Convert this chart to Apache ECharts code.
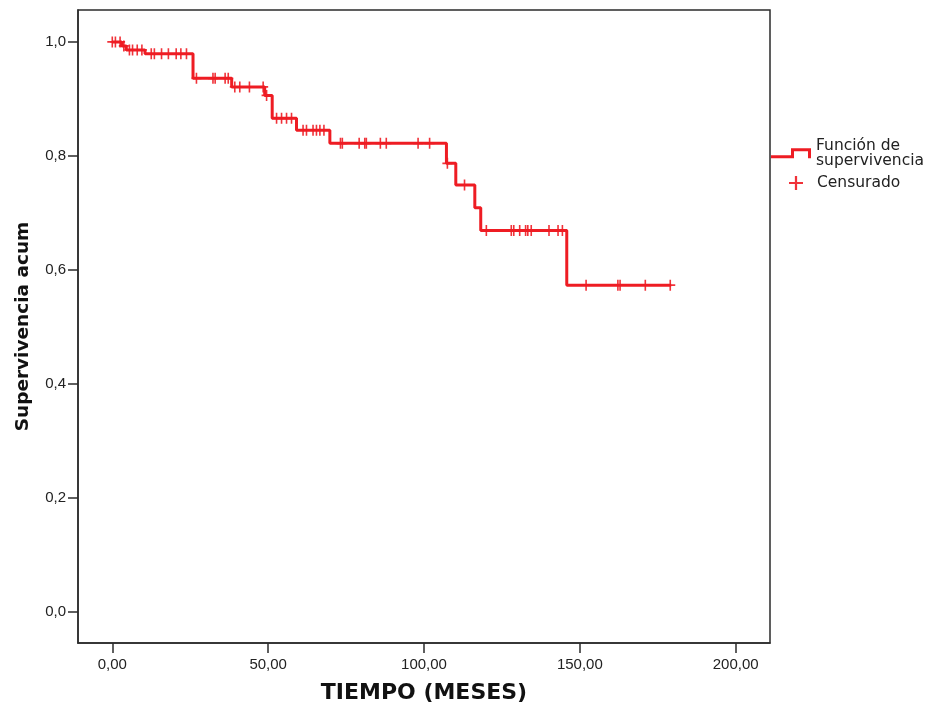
<!DOCTYPE html>
<html>
<head>
<meta charset="utf-8">
<script src="https://cdn.jsdelivr.net/npm/echarts/dist/echarts.min.js"></script>
<style>
html,body{margin:0;padding:0;background:#fff;}
#chart{width:936px;height:704px;}
</style>
</head>
<body>
<div id="chart"></div>
<script>
// Kaplan-Meier step points (time in months, cumulative survival)
const stepTimes = [0, 3, 4.5, 10.5, 25.9, 38.3, 48.9, 51.3, 59.1, 69.8, 107.2, 110.2, 116.3, 118.2, 145.8, 179.3];
const stepSurv  = [1.0, 0.993, 0.986, 0.979, 0.936, 0.921, 0.906, 0.866, 0.845, 0.822, 0.787, 0.749, 0.709, 0.669, 0.573, 0.573];

// Censored observations
const censorTimes = [0, 1, 2.5, 3.7, 5.5, 6.5, 8, 9.5, 12.5, 13.5, 15.8, 18, 20.5, 22, 23.8,
  27, 32.3, 33, 36.2, 37.2, 39.3, 40.9, 44, 48.4, 49.5, 52.7, 54.3, 55.9, 57.5,
  61.2, 62.3, 64.4, 65.5, 66.6, 67.9, 73.2, 73.8, 79.2, 81, 81.5, 86, 87.9, 98.1, 101.8,
  107.5, 113, 120, 128, 128.8, 130.7, 132.6, 133.3, 134.4, 140.1, 143, 144.4,
  152, 162.2, 162.9, 171, 179];
const censorSurv = [1.0, 1.0, 1.0, 0.993, 0.986, 0.986, 0.986, 0.986, 0.979, 0.979, 0.979, 0.979, 0.979, 0.979, 0.979,
  0.936, 0.936, 0.936, 0.936, 0.936, 0.921, 0.921, 0.921, 0.921, 0.906, 0.866, 0.866, 0.866, 0.866,
  0.845, 0.845, 0.845, 0.845, 0.845, 0.845, 0.822, 0.822, 0.822, 0.822, 0.822, 0.822, 0.822, 0.822, 0.822,
  0.787, 0.749, 0.669, 0.669, 0.669, 0.669, 0.669, 0.669, 0.669, 0.669, 0.669, 0.669,
  0.573, 0.573, 0.573, 0.573, 0.573];

const xTicks = [0, 50, 100, 150, 200];
const yTicks = [0, 0.2, 0.4, 0.6, 0.8, 1.0];

const RED = '#ee1c23';
const FONT = '"Liberation Sans", Arial, sans-serif';
const WFONT = '"DejaVu Sans", Verdana, sans-serif';
const plusPath = 'path://M4.2,0H5.8V4.2H10V5.8H5.8V10H4.2V5.8H0V4.2H4.2Z';
const stepIcon = 'path://M0,7L20,7L20,0L40,0L40,10L37,10L37,3L23,3L23,10L0,10Z';

const chart = echarts.init(document.getElementById('chart'), null, {renderer: 'canvas'});
chart.setOption({
  animation: false,
  backgroundColor: '#fff',
  grid: {left: 78, right: 166, top: 10, bottom: 61, outerBoundsMode: 'none', containLabel: false,
    show: true, borderColor: '#2b2b2b', borderWidth: 1.5, backgroundColor: 'transparent'},
  legend: [
    {
      data: [{name: 'Función de supervivencia', icon: stepIcon}],
      left: 766, top: 133, orient: 'vertical',
      itemWidth: 40, itemHeight: 10,
      itemStyle: {color: RED},
      formatter: () => 'Función de\nsupervivencia',
      textStyle: {fontFamily: WFONT, fontSize: 15.5, color: '#222', lineHeight: 14.5}
    },
    {
      data: [{name: 'Censurado', icon: plusPath}],
      left: 784, top: 170, orient: 'vertical',
      itemWidth: 14, itemHeight: 14,
      itemStyle: {color: RED},
      textStyle: {fontFamily: WFONT, fontSize: 15.5, color: '#222', padding: [0, 0, 0, 9]}
    }
  ],
  xAxis: {
    type: 'value', min: -11, max: 211,
    name: 'TIEMPO (MESES)', nameLocation: 'middle', nameGap: 39,
    nameTextStyle: {fontFamily: WFONT, fontSize: 22, fontWeight: 'bold', color: '#111'},
    axisLine: {show: true, onZero: false, lineStyle: {color: '#2b2b2b', width: 1.5}},
    axisTick: {show: true, length: 10, customValues: xTicks, lineStyle: {color: '#2b2b2b', width: 1.5}},
    axisLabel: {customValues: xTicks, margin: 14, fontFamily: FONT, fontSize: 15, color: '#222',
      formatter: v => v.toFixed(2).replace('.', ',')},
    splitLine: {show: false}
  },
  yAxis: {
    type: 'value', min: -0.055, max: 1.056,
    name: 'Supervivencia acum', nameLocation: 'middle', nameGap: 45,
    nameTextStyle: {fontFamily: WFONT, fontSize: 18.5, fontWeight: 'bold', color: '#111'},
    axisLine: {show: true, onZero: false, lineStyle: {color: '#2b2b2b', width: 1.5}},
    axisTick: {show: true, length: 10, customValues: yTicks, lineStyle: {color: '#2b2b2b', width: 1.5}},
    axisLabel: {customValues: yTicks, margin: 12, fontFamily: FONT, fontSize: 15, color: '#222',
      formatter: v => v.toFixed(1).replace('.', ',')},
    splitLine: {show: false}
  },
  series: [
    {
      type: 'line', name: 'Función de supervivencia', step: 'end',
      data: stepTimes.map((t, i) => [t, stepSurv[i]]),
      showSymbol: false, symbol: 'none',
      lineStyle: {color: RED, width: 3},
      itemStyle: {color: RED}
    },
    {
      type: 'scatter', name: 'Censurado',
      data: censorTimes.map((t, i) => [t, censorSurv[i]]),
      symbol: plusPath, symbolSize: [10, 11],
      itemStyle: {color: RED, opacity: 0.9}
    }
  ]
});
</script>
</body>
</html>
